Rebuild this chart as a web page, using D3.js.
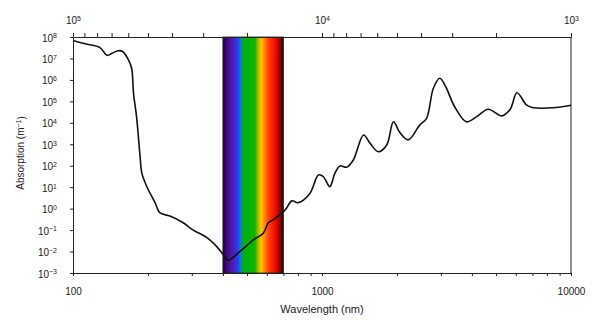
<!DOCTYPE html>
<html>
<head>
<meta charset="utf-8">
<script src="https://cdn.jsdelivr.net/npm/d3@7"></script>
<style>
	body { margin: 0; background: #fff; }
	svg { display: block; font-family: "Liberation Sans", Arial, sans-serif; }
	.axis path, .axis line { stroke: #222; }
	.axis text { fill: #222; font-size: 10px; }
</style>
</head>
<body>
<svg width="594" height="320"></svg>
<script>
// wavelength (nm) and absorption coefficient (m^-1)
const wavelengthNm = [100, 113, 128, 137, 143, 152, 159, 167, 172, 175, 180, 186, 189, 198, 214, 223, 245, 277, 304, 344, 378, 400, 420, 467, 530, 581, 609, 636, 710, 757, 802, 894, 967, 1012, 1075, 1127, 1180, 1254, 1336, 1469, 1560, 1685, 1819, 1937, 2054, 2220, 2470, 2630, 2800, 2970, 3140, 3410, 3800, 4170, 4650, 5270, 5700, 6070, 6620, 6980, 8450, 10000]
const absorption = [6.8e7, 4.7e7, 3.3e7, 1.4e7, 1.7e7, 2.3e7, 2.0e7, 8.5e6, 3.5e6, 2.4e5, 1.9e4, 260, 45, 10.5, 1.8, 0.65, 0.45, 0.22, 0.10, 0.046, 0.017, 0.0076, 0.004, 0.0098, 0.035, 0.071, 0.22, 0.30, 0.85, 2.3, 1.9, 5.1, 37, 31, 10.5, 45, 98, 85, 186, 2700, 1100, 450, 930, 11200, 3500, 1600, 7900, 16000, 4.1e5, 1.2e6, 4.8e5, 56000, 11200, 19000, 43000, 21000, 43000, 2.5e5, 68000, 52000, 50000, 66000]

// visible band (nm)
const visibleBand = [400, 700]

// axis ticks
const yExponents = [-3, -2, -1, 0, 1, 2, 3, 4, 5, 6, 7, 8]
const bottomLabels = [100, 1000, 10000]
const topLabelExponents = [5, 4, 3]
const xTitle = "Wavelength (nm)"
const yTitle = "Absorption (m"

const margin = {top: 37, right: 23, bottom: 47, left: 73}
const width = 594 - margin.left - margin.right
const height = 320 - margin.top - margin.bottom

const svg = d3.select("svg")
const g = svg.append("g")
	.attr("transform", "translate(" + margin.left + "," + margin.top + ")")

const x = d3.scaleLog().domain([100, 10000]).range([0, width])
const xTop = d3.scaleLog().domain([1e5, 1e3]).range([0, width]) // wavenumber, cm^-1
const y = d3.scaleLog().domain([1e-3, 1e8]).range([height, 0])

// rainbow gradient for the visible band
const grad = svg.append("defs").append("linearGradient")
	.attr("id", "spectrum")
	.attr("x1", "0%").attr("x2", "100%").attr("y1", "0%").attr("y2", "0%")
const stops = [
	[0, "#1a0022"], [0.05, "#3a0870"], [0.12, "#4c159c"], [0.19, "#4a22c0"],
	[0.25, "#2840f0"], [0.29, "#1a6ee8"], [0.33, "#00a83a"], [0.42, "#00b400"],
	[0.53, "#10b400"], [0.58, "#8cc400"], [0.63, "#ffc400"], [0.69, "#ff8a00"],
	[0.76, "#ff3c00"], [0.86, "#f01000"], [0.93, "#b00000"], [1, "#2a0000"]
]
stops.forEach(s => grad.append("stop").attr("offset", s[0]).attr("stop-color", s[1]))

g.append("rect")
	.attr("x", x(visibleBand[0]))
	.attr("y", 0)
	.attr("width", x(visibleBand[1]) - x(visibleBand[0]))
	.attr("height", height)
	.attr("fill", "url(#spectrum)")
	.attr("stroke", "#222")
	.attr("stroke-width", 0.8)

function supLabel(sel, base, exp) {
	sel.text(null)
	sel.append("tspan").text(base)
	sel.append("tspan")
		.attr("dy", "-0.45em")
		.attr("font-size", "7px")
		.text(exp)
}

// bottom axis
const bottomTicks = []
for (let d = 100; d <= 10000; d *= 10) {
	for (let k = 1; k <= 9; k++) if (d * k <= 10000) bottomTicks.push(d * k)
}
const gx = g.append("g")
	.attr("class", "axis")
	.attr("transform", "translate(0," + height + ")")
	.call(d3.axisBottom(x).tickValues(bottomTicks).tickSize(3).tickSizeOuter(0)
		.tickFormat(d => bottomLabels.includes(d) ? String(d) : ""))
gx.selectAll("text").attr("dy", "1.6em").attr("font-size", "10.5px")

// top axis (wavenumber)
const topTicks = []
for (let d = 1e3; d < 1e5; d *= 10) {
	for (let k = 1; k <= 9; k++) topTicks.push(d * k)
}
topTicks.push(1e5)
const gt = g.append("g")
	.attr("class", "axis")
	.call(d3.axisTop(xTop).tickValues(topTicks).tickSize(4).tickSizeOuter(0).tickFormat(""))
gt.selectAll(".tick")
	.filter(d => topLabelExponents.includes(Math.round(Math.log10(d))) && Math.abs(Math.log10(d) % 1) < 1e-9)
	.select("text")
	.attr("y", -13)
	.each(function(d) { supLabel(d3.select(this), "10", String(Math.round(Math.log10(d)))) })

// left axis
const gy = g.append("g")
	.attr("class", "axis")
	.call(d3.axisLeft(y).tickValues(yExponents.map(e => Math.pow(10, e))).tickSize(3).tickSizeOuter(0).tickFormat(""))
gy.selectAll(".tick text")
	.attr("x", -16)
	.attr("dy", "0.4em")
	.each(function(d) { supLabel(d3.select(this), "10", String(Math.round(Math.log10(d))).replace("-", "\u2212")) })

// right border
g.append("line")
	.attr("x1", width).attr("x2", width)
	.attr("y1", 0).attr("y2", height)
	.attr("stroke", "#222")

// curve
const pts = wavelengthNm.map((w, i) => ({w: w, a: absorption[i]}))
const line = d3.line()
	.x(d => x(d.w))
	.y(d => y(d.a))
	.curve(d3.curveCatmullRom.alpha(0.5))
g.append("path")
	.datum(pts)
	.attr("fill", "none")
	.attr("stroke", "#111")
	.attr("stroke-width", 1.6)
	.attr("stroke-linejoin", "round")
	.attr("d", line)

// titles
svg.append("text")
	.attr("x", margin.left + width / 2)
	.attr("y", 313)
	.attr("text-anchor", "middle")
	.attr("font-size", "11px")
	.attr("fill", "#222")
	.text(xTitle)

const yt = svg.append("text")
	.attr("transform", "translate(24," + (margin.top + height / 2 - 2) + ") rotate(-90)")
	.attr("text-anchor", "middle")
	.attr("font-size", "10px")
	.attr("fill", "#222")
yt.append("tspan").text(yTitle)
yt.append("tspan").attr("dy", "-0.45em").attr("font-size", "7px").text("\u22121")
yt.append("tspan").attr("dy", "0.45em").text(")")
</script>
</body>
</html>
